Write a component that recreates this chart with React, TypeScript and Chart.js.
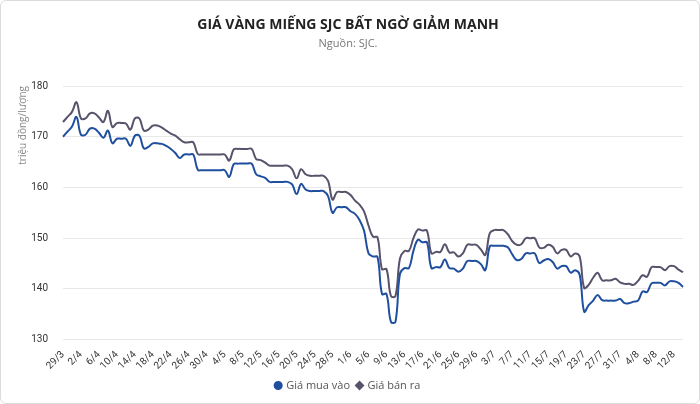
import { useEffect, useRef } from 'react';
import Chart from 'chart.js/auto';

const dates = [
  '29/3', '30/3', '31/3',
  '1/4', '2/4', '3/4', '4/4', '5/4', '6/4', '7/4', '8/4', '9/4', '10/4', '11/4', '12/4', '13/4', '14/4', '15/4',
  '16/4', '17/4', '18/4', '19/4', '20/4', '21/4', '22/4', '23/4', '24/4', '25/4', '26/4', '27/4', '28/4', '29/4', '30/4',
  '1/5', '2/5', '3/5', '4/5', '5/5', '6/5', '7/5', '8/5', '9/5', '10/5', '11/5', '12/5', '13/5', '14/5', '15/5', '16/5',
  '17/5', '18/5', '19/5', '20/5', '21/5', '22/5', '23/5', '24/5', '25/5', '26/5', '27/5', '28/5', '29/5', '30/5', '31/5',
  '1/6', '2/6', '3/6', '4/6', '5/6', '6/6', '7/6', '8/6', '9/6', '10/6', '11/6', '12/6', '13/6', '14/6', '15/6',
  '16/6', '17/6', '18/6', '19/6', '20/6', '21/6', '22/6', '23/6', '24/6', '25/6', '26/6', '27/6', '28/6', '29/6', '30/6',
  '1/7', '2/7', '3/7', '4/7', '5/7', '6/7', '7/7', '8/7', '9/7', '10/7', '11/7', '12/7', '13/7', '14/7', '15/7', '16/7',
  '17/7', '18/7', '19/7', '20/7', '21/7', '22/7', '23/7', '24/7', '25/7', '26/7', '27/7', '28/7', '29/7', '30/7', '31/7',
  '1/8', '2/8', '3/8', '4/8', '5/8', '6/8', '7/8', '8/8', '9/8', '10/8', '11/8', '12/8', '13/8', '14/8',
];

// giá mua vào
const buyPrices = [
  170, 171, 172, 173.9, 170.4, 170.4, 171.6, 171.6, 170.8, 169.8,
  171.2, 168.7, 169.6, 169.6, 169.6, 168.2, 170.2, 170.2, 167.7, 168,
  168.7, 168.7, 168.6, 168.2, 167.6, 166.8, 165.8, 166.5, 166.5, 166.5,
  163.5, 163.4, 163.4, 163.4, 163.4, 163.4, 163.4, 162.1, 164.6, 164.7,
  164.7, 164.7, 164.7, 162.6, 162.2, 161.9, 161.1, 161.1, 161.1, 161.1,
  161.1, 160.6, 158.7, 160.7, 159.6, 159.3, 159.3, 159.3, 159.3, 158.3,
  155, 156.1, 156.1, 156.1, 155.3, 154.8, 153.6, 151.5, 147, 146.4,
  146.3, 139, 139, 133.5, 133.5, 143, 144.1, 144.1, 147.5, 149.7,
  149.2, 149.2, 144.1, 144.3, 144.3, 145.8, 144.1, 144, 143.4, 144,
  145.5, 145.5, 145.5, 144.9, 143.7, 148.4, 148.5, 148.5, 148.5, 148.2,
  146.8, 145.7, 145.9, 147, 147, 147, 145.1, 145.6, 145.9, 145.3,
  144, 144.5, 144.5, 143.2, 143.7, 142.8, 135.5, 136.8, 137.7, 138.8,
  137.8, 137.7, 137.7, 137.7, 138, 137.2, 137.2, 137.5, 137.7, 139.5,
  139.4, 141.1, 141.2, 141.2, 140.7, 141.5, 141.5, 141.2, 140.4,
];

// giá bán ra
const sellPrices = [
  172.9, 173.9, 174.9, 176.8, 173.6, 173.6, 174.6, 174.6, 173.8, 172.9,
  175.1, 171.9, 172.7, 172.7, 172.6, 171.4, 173.6, 173.6, 171.2, 171.4,
  172.2, 172.2, 171.8, 171.2, 170.6, 170.2, 169.5, 168.9, 168.9, 168.9,
  166.6, 166.5, 166.5, 166.5, 166.5, 166.5, 166.5, 165.3, 167.5, 167.6,
  167.6, 167.6, 167.6, 165.6, 165.4, 164.9, 164.3, 164.3, 164.3, 164.3,
  164.3, 163.6, 161.8, 163.6, 162.6, 162.3, 162.3, 162.3, 162.3, 161.3,
  157.6, 159.1, 159.1, 159.1, 158.5, 157.4, 156.6, 155.3, 152.5, 150.3,
  150.2, 143.9, 143.9, 138.6, 138.6, 146, 147.5, 147.5, 150, 151.7,
  151.5, 151.5, 147, 147.3, 147.3, 148.8, 147.2, 147.2, 146.4, 147,
  148.7, 148.7, 148.7, 147.8, 146.7, 151, 151.6, 151.6, 151.6, 150.8,
  149.4, 148.7, 148.8, 150, 150, 150, 148.2, 148.1, 148.7, 148.3,
  147, 147.7, 147.7, 146.4, 147, 146.4, 140.2, 140.8, 142.2, 143.2,
  141.7, 141.7, 141.7, 142, 141.3, 141, 141, 140.8, 141.6, 142.7,
  142.4, 144.3, 144.3, 144.3, 143.7, 144.5, 144.5, 143.8, 143.3,
];

const yTicks = [130, 140, 150, 160, 170, 180];

const FONT = "'Open Sans', 'Noto Sans', sans-serif";
const AXIS_FONT = "Roboto, 'Noto Sans', sans-serif";

export default function App() {
  const canvasRef = useRef<HTMLCanvasElement | null>(null);

  useEffect(() => {
    document.body.style.margin = '0';
    if (!canvasRef.current) {
      return;
    }

    const chart = new Chart(canvasRef.current, {
      type: 'line',
      data: {
        labels: dates,
        datasets: [
          {
            label: 'Giá mua vào',
            data: buyPrices,
            borderColor: '#1f4f9e',
            backgroundColor: '#1f4f9e',
            borderWidth: 2,
            pointRadius: 0,
            pointStyle: 'circle',
            tension: 0.4,
          },
          {
            label: 'Giá bán ra',
            data: sellPrices,
            borderColor: '#58526b',
            backgroundColor: '#58526b',
            borderWidth: 2,
            pointRadius: 0,
            pointStyle: 'rectRot',
            tension: 0.4,
          },
        ],
      },
      options: {
        animation: false,
        responsive: true,
        maintainAspectRatio: false,
        layout: { padding: { top: 2, left: 12, right: 16, bottom: 2 } },
        plugins: {
          title: {
            display: true,
            text: 'GIÁ VÀNG MIẾNG SJC BẤT NGỜ GIẢM MẠNH',
            color: '#222',
            font: { family: FONT, size: 14, weight: 'bold' },
            padding: { top: 14, bottom: 3 },
          },
          subtitle: {
            display: true,
            text: 'Nguồn: SJC.',
            color: '#777',
            font: { family: FONT, size: 11 },
            padding: { bottom: 36 },
          },
          legend: {
            position: 'bottom',
            labels: {
              usePointStyle: true,
              boxWidth: 5,
              boxHeight: 5,
              color: '#555',
              font: { family: FONT, size: 11 },
              padding: 7,
            },
          },
          tooltip: { enabled: false },
        },
        scales: {
          x: {
            grid: { display: false },
            border: { display: false },
            ticks: {
              autoSkip: false,
              maxRotation: 45,
              minRotation: 45,
              padding: 1,
              color: '#333',
              font: { family: AXIS_FONT, size: 10 },
              callback: (_v, i) => (i % 4 === 0 ? dates[i] : null),
            },
          },
          y: {
            min: yTicks[0],
            max: yTicks[yTicks.length - 1],
            afterBuildTicks: (axis) => {
              axis.ticks = yTicks.map((v) => ({ value: v }));
            },
            afterFit: (axis) => {
              axis.width = 50;
            },
            grid: { color: '#e8e8e8', drawTicks: false },
            border: { display: false },
            ticks: { color: '#333', font: { family: AXIS_FONT, size: 10 }, padding: 15 },
            title: {
              display: true,
              text: 'triệu đồng/lượng',
              align: 'end',
              color: '#888',
              font: { family: FONT, size: 10 },
            },
          },
        },
      },
    });
    return () => chart.destroy();
  }, []);

  return (
    <div
      style={{
        width: 700,
        height: 404,
        boxSizing: 'border-box',
        border: '1px solid #dcdcdc',
        borderRadius: 6,
        background: '#fff',
        position: 'relative',
      }}
    >
      <canvas ref={canvasRef} />
    </div>
  );
}
